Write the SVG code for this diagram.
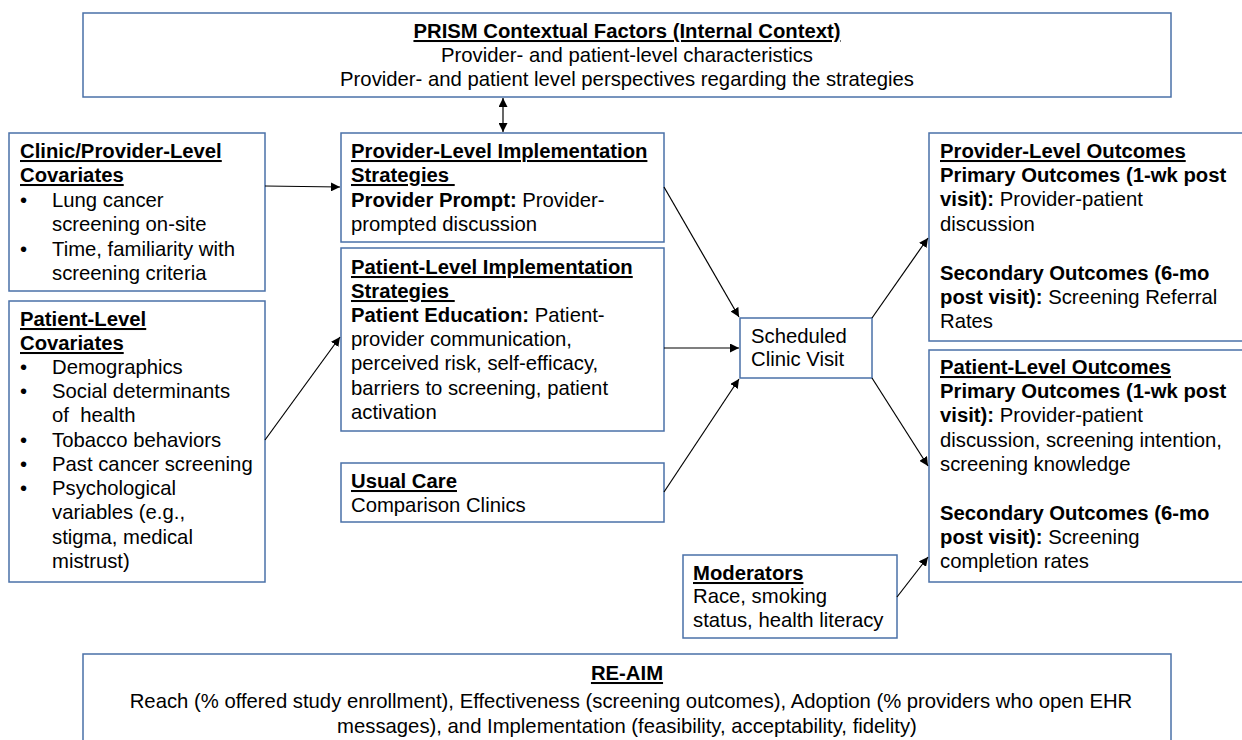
<svg xmlns="http://www.w3.org/2000/svg" width="1242" height="740" viewBox="0 0 1242 740">
<defs>
<marker id="ah" viewBox="0 0 10 10" refX="10" refY="5" markerWidth="9" markerHeight="9" markerUnits="userSpaceOnUse" orient="auto-start-reverse">
<path d="M0,0 L10,5 L0,10 z" fill="#000"/>
</marker>
</defs>
<style>
.box{fill:#fff;stroke:#4a70a8;stroke-width:1.5}
text{font-family:"Liberation Sans",Arial,sans-serif;font-size:20.3px;fill:#000}
.b{font-weight:bold}
.u{text-decoration:underline}
.c{text-anchor:middle}
.con line{stroke:#000;stroke-width:1.2;marker-end:url(#ah)}
</style>
<rect width="1242" height="740" fill="#fff"/>

<g id="prism">
<rect class="box" x="83" y="13" width="1088" height="84"/>
<text class="c" x="627" y="38"><tspan class="b u">PRISM Contextual Factors (Internal Context)</tspan></text>
<text class="c" x="627" y="62">Provider- and patient-level characteristics</text>
<text class="c" x="627" y="86">Provider- and patient level perspectives regarding the strategies</text>
</g>

<g id="clinic-cov">
<rect class="box" x="9" y="133" width="256" height="158"/>
<text x="20" y="158" class="b u">Clinic/Provider-Level</text>
<text x="20" y="182" class="b u">Covariates</text>
<text x="20" y="207">•</text><text x="52" y="207">Lung cancer</text>
<text x="52" y="231">screening on-site</text>
<text x="20" y="256">•</text><text x="52" y="256">Time, familiarity with</text>
<text x="52" y="280">screening criteria</text>
</g>

<g id="patient-cov">
<rect class="box" x="9" y="301" width="256" height="281"/>
<text x="20" y="326" class="b u">Patient-Level</text>
<text x="20" y="350" class="b u">Covariates</text>
<text x="20" y="374">•</text><text x="52" y="374">Demographics</text>
<text x="20" y="398">•</text><text x="52" y="398">Social determinants</text>
<text x="52" y="422" xml:space="preserve">of  health</text>
<text x="20" y="447">•</text><text x="52" y="447">Tobacco behaviors</text>
<text x="20" y="471">•</text><text x="52" y="471">Past cancer screening</text>
<text x="20" y="495">•</text><text x="52" y="495">Psychological</text>
<text x="52" y="519">variables (e.g.,</text>
<text x="52" y="544">stigma, medical</text>
<text x="52" y="568">mistrust)</text>
</g>

<g id="provider-impl">
<rect class="box" x="341" y="133" width="323" height="109"/>
<text x="351" y="158" class="b u">Provider-Level Implementation</text>
<text x="351" y="182" class="b u" xml:space="preserve">Strategies </text>
<text x="351" y="207"><tspan class="b">Provider Prompt:</tspan> Provider-</text>
<text x="351" y="231">prompted discussion</text>
</g>

<g id="patient-impl">
<rect class="box" x="341" y="248" width="323" height="183"/>
<text x="351" y="274" class="b u">Patient-Level Implementation</text>
<text x="351" y="298" class="b u" xml:space="preserve">Strategies </text>
<text x="351" y="322"><tspan class="b">Patient Education:</tspan> Patient-</text>
<text x="351" y="346">provider communication,</text>
<text x="351" y="370">perceived risk, self-efficacy,</text>
<text x="351" y="395">barriers to screening, patient</text>
<text x="351" y="419">activation</text>
</g>

<g id="usual-care">
<rect class="box" x="341" y="463" width="323" height="59"/>
<text x="351" y="488" class="b u">Usual Care</text>
<text x="351" y="512">Comparison Clinics</text>
</g>

<g id="visit">
<rect class="box" x="740" y="318" width="132" height="60"/>
<text x="751" y="343">Scheduled</text>
<text x="751" y="366">Clinic Visit</text>
</g>

<g id="provider-out">
<rect class="box" x="929" y="133" width="320" height="208"/>
<text x="940" y="158" class="b u">Provider-Level Outcomes</text>
<text x="940" y="182" class="b">Primary Outcomes (1-wk post</text>
<text x="940" y="206"><tspan class="b">visit):</tspan> Provider-patient</text>
<text x="940" y="231">discussion</text>
<text x="940" y="280" class="b">Secondary Outcomes (6-mo</text>
<text x="940" y="304"><tspan class="b">post visit):</tspan> Screening Referral</text>
<text x="940" y="328">Rates</text>
</g>

<g id="patient-out">
<rect class="box" x="929" y="350" width="320" height="232"/>
<text x="940" y="374" class="b u">Patient-Level Outcomes</text>
<text x="940" y="398" class="b">Primary Outcomes (1-wk post</text>
<text x="940" y="422"><tspan class="b">visit):</tspan> Provider-patient</text>
<text x="940" y="447">discussion, screening intention,</text>
<text x="940" y="471">screening knowledge</text>
<text x="940" y="520" class="b">Secondary Outcomes (6-mo</text>
<text x="940" y="544"><tspan class="b">post visit):</tspan> Screening</text>
<text x="940" y="568">completion rates</text>
</g>

<g id="moderators">
<rect class="box" x="683" y="555" width="214" height="83"/>
<text x="693" y="580" class="b u">Moderators</text>
<text x="693" y="603">Race, smoking</text>
<text x="693" y="627">status, health literacy</text>
</g>

<g id="reaim">
<rect class="box" x="83" y="654" width="1088" height="100"/>
<text class="c" x="627" y="680"><tspan class="b u">RE-AIM</tspan></text>
<text class="c" x="631" y="708">Reach (% offered study enrollment), Effectiveness (screening outcomes), Adoption (% providers who open EHR</text>
<text class="c" x="627" y="733">messages), and Implementation (feasibility, acceptability, fidelity)</text>
</g>

<g id="connectors" class="con">
<line x1="503" y1="98" x2="503" y2="132" style="marker-start:url(#ah)"/>
<line x1="265" y1="186" x2="340" y2="187"/>
<line x1="265" y1="440" x2="340" y2="337"/>
<line x1="664" y1="187" x2="739" y2="317"/>
<line x1="664" y1="348" x2="739" y2="348"/>
<line x1="664" y1="492" x2="739" y2="379"/>
<line x1="872" y1="318" x2="928" y2="238"/>
<line x1="872" y1="378" x2="928" y2="466"/>
<line x1="897" y1="597" x2="928" y2="557"/>
</g>
</svg>
